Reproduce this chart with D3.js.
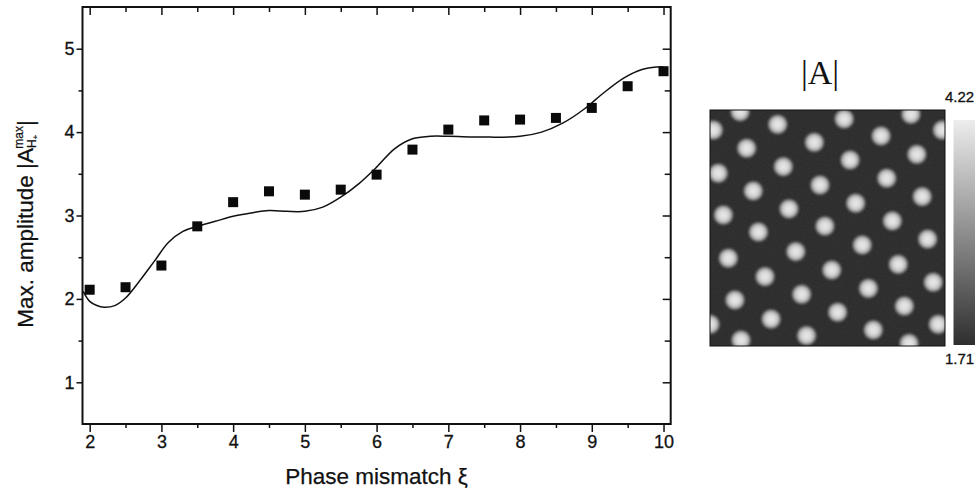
<!DOCTYPE html>
<html>
<head>
<meta charset="utf-8">
<script src="https://cdn.jsdelivr.net/npm/d3@7/dist/d3.min.js"></script>
<style>
  body { margin: 0; background: #fff; }
  svg { display: block; font-family: "Liberation Sans", Arial, sans-serif; }
</style>
</head>
<body>
<div id="chart"></div>
<script>
// measured maxima (squares)
var xi     = [2, 2.5, 3, 3.5, 4, 4.5, 5, 5.5, 6, 6.5, 7, 7.5, 8, 8.5, 9, 9.5, 10];
var ampMax = [2.11, 2.14, 2.40, 2.87, 3.16, 3.29, 3.25, 3.31, 3.49, 3.79, 4.03, 4.14, 4.15, 4.17, 4.29, 4.55, 4.73];

// solid fitted line
var fitXi  = [1.91, 2.0, 2.1, 2.2, 2.35, 2.5, 2.7, 2.9, 3.1, 3.3, 3.5, 3.75, 4.0, 4.25, 4.5, 4.75, 5.0, 5.25, 5.5, 5.75, 6.0, 6.25, 6.5, 6.75, 7.0, 7.5, 8.0, 8.3, 8.6, 8.9, 9.15, 9.45, 9.7, 9.9, 10.0];
var fitAmp = [2.09, 1.97, 1.92, 1.90, 1.92, 2.01, 2.22, 2.45, 2.68, 2.81, 2.87, 2.93, 2.99, 3.03, 3.06, 3.05, 3.05, 3.10, 3.22, 3.38, 3.58, 3.80, 3.92, 3.95, 3.95, 3.94, 3.95, 4.00, 4.11, 4.28, 4.46, 4.65, 4.75, 4.78, 4.78];

// axis ticks
var xTicks = [2, 3, 4, 5, 6, 7, 8, 9, 10];
var xMinor = [2.5, 3.5, 4.5, 5.5, 6.5, 7.5, 8.5, 9.5];
var yTicks = [1, 2, 3, 4, 5];
var yMinor = [1.5, 2.5, 3.5, 4.5];

// bright spots of the |A| field, in % of the frame (u from left, v from top)
var spotU = [12.8, 28.8, 57.1, 85.5, 1.4, 44.4, 72.8, 98.9, 15.6, 88.0, 31.2, 59.6, 3.5, 75.2, 18.4,
             46.8, 90.3, 33.6, 62.0, 5.7, 77.6, 20.6, 48.9, 7.8, 36.5, 64.8, 92.6, 23.4, 51.8, 80.1,
             10.6, 39.0, 67.4, 95.0, 26.0, 54.3, 82.7, 0.0, 41.1, 69.5, 97.1, 13.2, 84.7];
var spotV = [0.7, 6.1, 3.8, 1.8, 8.5, 13.7, 11.0, 8.5, 16.2, 18.8, 24.0, 21.2, 26.8, 28.9, 34.3,
             31.8, 36.7, 41.9, 39.5, 44.5, 47.0, 51.7, 49.2, 62.8, 60.0, 57.2, 54.7, 70.6, 67.8, 65.4,
             80.5, 78.1, 75.6, 73.0, 88.6, 85.7, 83.1, 90.8, 95.6, 93.2, 90.8, 97.5, 98.9];

// colour bar limits and panel title
var colorRange = [1.71, 4.22];
var fieldTitle = "|A|";

var width = 975, height = 492;
var svg = d3.select("#chart").append("svg")
    .attr("width", width).attr("height", height);
var defs = svg.append("defs");

// ---------- left panel: amplitude vs mismatch ----------
var plot = { left: 82.5, right: 670.7, top: 7, bottom: 424 };
var x = d3.scaleLinear().domain([1.9, 10.1]).range([plot.left, plot.right]);
var y = d3.scaleLinear().domain([0.5, 5.5]).range([plot.bottom, plot.top]);

function tidy(g) {
  g.select(".domain").remove();
  g.selectAll(".tick line").attr("stroke", "#111").attr("stroke-width", 1.5);
  g.selectAll(".tick text").attr("fill", "#111").attr("font-size", 18)
    .attr("stroke", "#111").attr("stroke-width", 0.3)
    .attr("font-family", "Liberation Sans, Arial, sans-serif");
}

// bottom (outward) and top (inward)
svg.append("g").attr("transform", "translate(0," + plot.bottom + ")")
  .call(d3.axisBottom(x).tickValues(xTicks).tickSize(8).tickPadding(3).tickFormat(d3.format("d"))).call(tidy);
svg.append("g").attr("transform", "translate(0," + plot.bottom + ")")
  .call(d3.axisBottom(x).tickValues(xMinor).tickSize(4).tickFormat("")).call(tidy);
svg.append("g").attr("transform", "translate(0," + plot.top + ")")
  .call(d3.axisTop(x).tickValues(xTicks).tickSize(-8).tickFormat("")).call(tidy);
svg.append("g").attr("transform", "translate(0," + plot.top + ")")
  .call(d3.axisTop(x).tickValues(xMinor).tickSize(-5).tickFormat("")).call(tidy);

// left (outward) and right (inward)
svg.append("g").attr("transform", "translate(" + plot.left + ",0)")
  .call(d3.axisLeft(y).tickValues(yTicks).tickSize(6).tickPadding(2).tickFormat(d3.format("d"))).call(tidy);
svg.append("g").attr("transform", "translate(" + plot.left + ",0)")
  .call(d3.axisLeft(y).tickValues(yMinor).tickSize(4).tickFormat("")).call(tidy);
svg.append("g").attr("transform", "translate(" + plot.right + ",0)")
  .call(d3.axisRight(y).tickValues(yTicks).tickSize(-8).tickFormat("")).call(tidy);
svg.append("g").attr("transform", "translate(" + plot.right + ",0)")
  .call(d3.axisRight(y).tickValues(yMinor).tickSize(-6).tickFormat("")).call(tidy);

// frame
svg.append("rect")
  .attr("x", plot.left).attr("y", plot.top)
  .attr("width", plot.right - plot.left).attr("height", plot.bottom - plot.top)
  .attr("fill", "none").attr("stroke", "#111").attr("stroke-width", 2);

// fitted line
var fit = fitXi.map(function(d, i) { return [d, fitAmp[i]]; });
svg.append("path")
  .datum(fit)
  .attr("fill", "none").attr("stroke", "#111").attr("stroke-width", 1.5)
  .attr("d", d3.line()
    .x(function(d) { return x(d[0]); })
    .y(function(d) { return y(d[1]); })
    .curve(d3.curveCatmullRom.alpha(0.5)));

// squares
var sq = 10;
svg.append("g").selectAll("rect")
  .data(xi)
  .enter().append("rect")
  .attr("x", function(d) { return x(d) - sq / 2; })
  .attr("y", function(d, i) { return y(ampMax[i]) - sq / 2; })
  .attr("width", sq).attr("height", sq)
  .attr("fill", "#0a0a0a");

// axis titles
svg.append("text")
  .attr("x", (plot.left + plot.right) / 2).attr("y", 484)
  .attr("text-anchor", "middle").attr("font-size", 22.5).attr("fill", "#111")
  .attr("stroke", "#111").attr("stroke-width", 0.25)
  .text("Phase mismatch \u03BE");

var ylab = svg.append("text")
  .attr("transform", "translate(33,224) rotate(-90)")
  .attr("text-anchor", "middle").attr("font-size", 22.5).attr("fill", "#111")
  .attr("stroke", "#111").attr("stroke-width", 0.25);
ylab.append("tspan").text("Max. amplitude |A");
ylab.append("tspan").attr("font-size", 12).attr("dy", 3).text("H");
ylab.append("tspan").attr("font-size", 8).attr("dy", 2).text("+");
ylab.append("tspan").attr("font-size", 12).attr("dx", -14).attr("dy", -15).text("max");
ylab.append("tspan").attr("dy", 10).text("|");

// ---------- right panel: |A| field ----------
var field = { left: 710, right: 945, top: 110, bottom: 346 };
var hx = d3.scaleLinear().domain([0, 100]).range([field.left, field.right]);
var hy = d3.scaleLinear().domain([0, 100]).range([field.top, field.bottom]);
var shade = d3.scaleLinear().domain(colorRange).range(["#1c1c1c", "#f0f0f0"]);

defs.append("clipPath").attr("id", "fieldClip")
  .append("rect")
  .attr("x", field.left).attr("y", field.top)
  .attr("width", field.right - field.left).attr("height", field.bottom - field.top);

var grad = defs.append("radialGradient").attr("id", "spot");
[[0, 4.15, 1], [0.4, 3.95, 1], [0.68, 3.4, 1], [0.88, 2.3, 0.7], [1, 1.71, 0]].forEach(function(s) {
  grad.append("stop").attr("offset", s[0]).attr("stop-color", shade(s[1])).attr("stop-opacity", s[2]);
});

var grain = defs.append("filter").attr("id", "grain")
  .attr("x", 0).attr("y", 0).attr("width", "100%").attr("height", "100%");
grain.append("feTurbulence").attr("type", "fractalNoise")
  .attr("baseFrequency", 0.7).attr("numOctaves", 2).attr("seed", 4);
grain.append("feColorMatrix").attr("type", "matrix")
  .attr("values", "0.33 0.33 0.33 0 0  0.33 0.33 0.33 0 0  0.33 0.33 0.33 0 0  0 0 0 0 1");

var soft = defs.append("filter").attr("id", "soft");
soft.append("feGaussianBlur").attr("stdDeviation", 0.8);

var fg = svg.append("g").attr("clip-path", "url(#fieldClip)");
fg.append("rect")
  .attr("x", field.left).attr("y", field.top)
  .attr("width", field.right - field.left).attr("height", field.bottom - field.top)
  .attr("fill", shade(colorRange[0]));
fg.append("rect")
  .attr("x", field.left).attr("y", field.top)
  .attr("width", field.right - field.left).attr("height", field.bottom - field.top)
  .attr("filter", "url(#grain)").attr("opacity", 0.12);
fg.append("g").attr("filter", "url(#soft)")
  .selectAll("circle")
  .data(spotU)
  .enter().append("circle")
  .attr("cx", function(d) { return hx(d); })
  .attr("cy", function(d, i) { return hy(spotV[i]); })
  .attr("r", 11.5)
  .attr("fill", "url(#spot)");
svg.append("rect")
  .attr("x", field.left).attr("y", field.top)
  .attr("width", field.right - field.left).attr("height", field.bottom - field.top)
  .attr("fill", "none").attr("stroke", "#111").attr("stroke-width", 1);

// colour bar (runs off the right edge)
var cb = { left: 953.5, top: 120, bottom: 345 };
var cy = d3.scaleLinear().domain(colorRange).range([cb.bottom, cb.top]);
var lg = defs.append("linearGradient").attr("id", "bar")
  .attr("x1", 0).attr("y1", 1).attr("x2", 0).attr("y2", 0);
[0, 0.25, 0.5, 0.75, 1].forEach(function(t) {
  var v = colorRange[0] + t * (colorRange[1] - colorRange[0]);
  lg.append("stop").attr("offset", t).attr("stop-color", d3.interpolateRgb("#2e2e2e", "#ededed")(t));
});
svg.append("rect")
  .attr("x", cb.left).attr("y", cy(colorRange[1]))
  .attr("width", 30).attr("height", cy(colorRange[0]) - cy(colorRange[1]))
  .attr("fill", "url(#bar)");

svg.append("text").attr("x", 945).attr("y", 102)
  .attr("font-size", 15).attr("fill", "#111").attr("stroke", "#111").attr("stroke-width", 0.3)
  .text(colorRange[1].toFixed(2));
svg.append("text").attr("x", 945).attr("y", 364)
  .attr("font-size", 15).attr("fill", "#111").attr("stroke", "#111").attr("stroke-width", 0.3)
  .text(colorRange[0].toFixed(2));

svg.append("text")
  .attr("x", 820).attr("y", 84)
  .attr("text-anchor", "middle")
  .attr("font-family", "Liberation Serif, Times New Roman, serif")
  .attr("font-size", 34).attr("fill", "#111")
  .text(fieldTitle);
</script>
</body>
</html>
